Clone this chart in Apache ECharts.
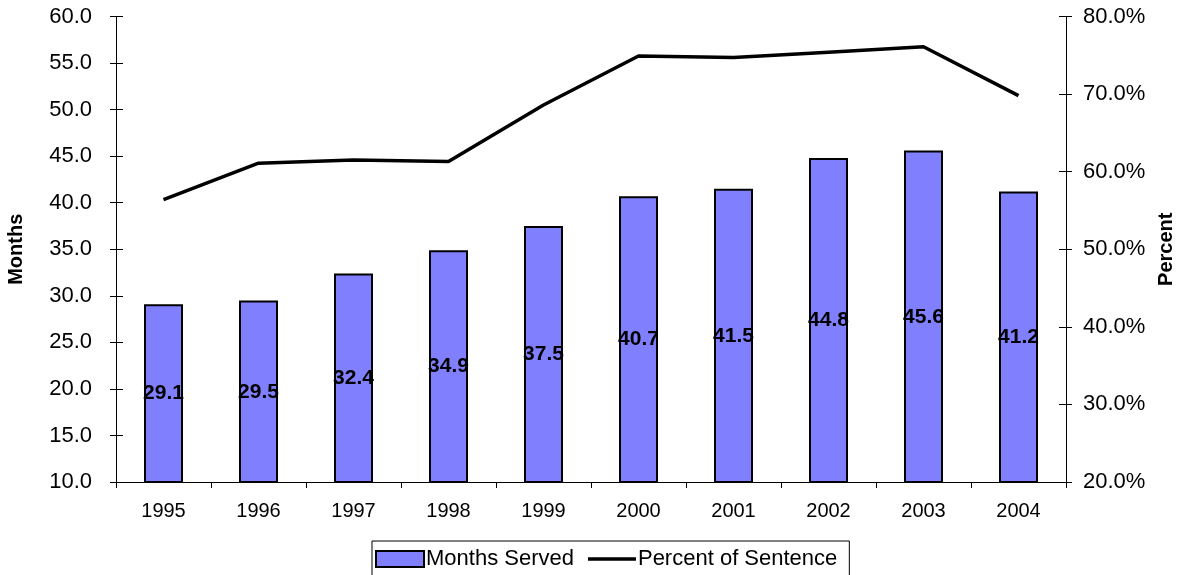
<!DOCTYPE html>
<html>
<head>
<meta charset="utf-8">
<script src="https://cdn.jsdelivr.net/npm/echarts@6/dist/echarts.min.js"></script>
<style>html,body{margin:0;padding:0;background:#fff}#c{width:1180px;height:575px}</style>
</head>
<body>
<div id="c"></div>
<script>
var years = ['1995','1996','1997','1998','1999','2000','2001','2002','2003','2004'];
var monthsServed = [29.1, 29.5, 32.4, 34.9, 37.5, 40.7, 41.5, 44.8, 45.6, 41.2];
var percentOfSentence = [56.4, 61.1, 61.5, 61.3, 68.6, 74.9, 74.7, 75.4, 76.1, 69.8];

var FONT = 'Liberation Sans, Arial, sans-serif';
var chart = echarts.init(document.getElementById('c'), null, {renderer: 'canvas'});
var axisLine = {show: true, lineStyle: {color: '#000', width: 1}};
chart.setOption({
  animation: false,
  backgroundColor: '#fff',
  grid: {left: 116, right: 114, top: 16.5, bottom: 93, containLabel: false, outerBoundsMode: 'none'},
  legend: {
    left: 372, top: 541,
    data: [
      {name: 'Months Served', icon: 'rect', itemStyle: {borderWidth: 2, borderColor: '#000'}},
      {name: 'Percent of Sentence', icon: 'path://M0,0H48V3.5H0Z'}
    ],
    borderColor: '#000', borderWidth: 1,
    padding: [7, 12, 8, 3],
    itemWidth: 48, itemHeight: 16, itemGap: 14,
    textStyle: {fontFamily: FONT, fontSize: 22, color: '#000', padding: [0, 0, 0, -3]}
  },
  xAxis: {
    type: 'category', data: years,
    axisLine: axisLine,
    axisTick: {show: true, length: 6, lineStyle: {color: '#000'}},
    axisLabel: {color: '#000', fontFamily: FONT, fontSize: 20, margin: 19}
  },
  yAxis: [
    {
      type: 'value', min: 10, max: 60, interval: 5, position: 'left',
      name: 'Months', nameLocation: 'middle', nameRotate: 90, nameGap: 90,
      nameTextStyle: {fontFamily: FONT, fontSize: 20, fontWeight: 'bold', color: '#000'},
      axisLine: axisLine, splitLine: {show: false},
      axisTick: {show: true, length: 6, lineStyle: {color: '#000'}},
      axisLabel: {color: '#000', fontFamily: FONT, fontSize: 22, margin: 24,
        formatter: function (v) { return v.toFixed(1); }}
    },
    {
      type: 'value', min: 20, max: 80, interval: 10, position: 'right',
      name: 'Percent', nameLocation: 'middle', nameRotate: 90, nameGap: 90,
      nameTextStyle: {fontFamily: FONT, fontSize: 20, fontWeight: 'bold', color: '#000'},
      axisLine: axisLine, splitLine: {show: false},
      axisTick: {show: true, length: 6, lineStyle: {color: '#000'}},
      axisLabel: {color: '#000', fontFamily: FONT, fontSize: 22, margin: 17,
        formatter: function (v) { return v.toFixed(1) + '%'; }}
    },
    {
      type: 'value', min: 10, max: 60, interval: 5, position: 'left',
      axisLine: {show: false}, splitLine: {show: false}, axisLabel: {show: false},
      axisTick: {show: true, inside: true, length: 7, lineStyle: {color: '#000'}}
    },
    {
      type: 'value', min: 20, max: 80, interval: 10, position: 'right',
      axisLine: {show: false}, splitLine: {show: false}, axisLabel: {show: false},
      axisTick: {show: true, inside: true, length: 7, lineStyle: {color: '#000'}}
    }
  ],
  series: [
    {
      name: 'Months Served', type: 'bar', yAxisIndex: 0, data: monthsServed,
      barWidth: 39,
      itemStyle: {color: '#8080FF', borderColor: '#000', borderWidth: 2},
      label: {show: true, position: 'inside', color: '#000', fontFamily: FONT,
        fontSize: 21, fontWeight: 'bold',
        formatter: function (p) { return p.value.toFixed(1); }}
    },
    {
      name: 'Percent of Sentence', type: 'line', yAxisIndex: 1, data: percentOfSentence,
      symbol: 'none', showSymbol: false,
      lineStyle: {color: '#000', width: 3.5},
      itemStyle: {color: '#000'}
    }
  ]
});
</script>
</body>
</html>
